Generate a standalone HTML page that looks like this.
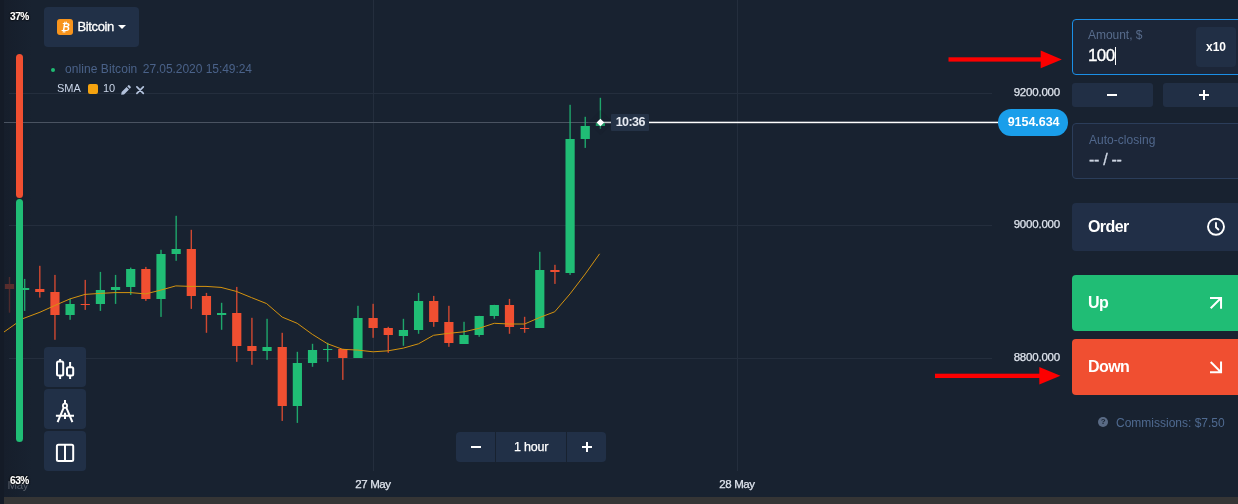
<!DOCTYPE html>
<html lang="en">
<head>
<meta charset="utf-8">
<title>Bitcoin chart</title>
<style>
*{box-sizing:border-box;margin:0;padding:0}
html,body{width:1238px;height:504px;overflow:hidden;background:#182230}
body{font-family:"Liberation Sans",sans-serif;color:#fff;position:relative}
#app{position:absolute;left:0;top:0;width:1238px;height:504px;overflow:hidden;background:#182230}
.abs{position:absolute}
#strip{left:0;top:0;width:4px;height:504px;background:#141b27}
#fade{left:4px;top:0;width:28px;height:497px;background:linear-gradient(90deg,#161e2b,#182230)}
#bottombar{left:4px;top:497px;width:1234px;height:7px;background:#353535}
#chart{left:0;top:0}
.pct{font-size:10.600px;font-weight:bold;color:#fff;left:9.800px;letter-spacing:-0.5px;-webkit-text-stroke:0.12px #fff;text-shadow:0 0 2px #000,0 0 2px #000,0 0 1px #000}
.asset{left:44px;top:7px;width:95px;height:40px;background:#213047;border-radius:4px}
.asset .ic{position:absolute;left:12.700px;top:11.700px;width:16.500px;height:16.500px;background:#f8941c;border-radius:3px}
.asset .nm{position:absolute;left:33.400px;top:12px;font-size:13px;line-height:16px;color:#fff;letter-spacing:-0.35px;-webkit-text-stroke:0.3px #fff}
.asset .car{position:absolute;left:74px;top:17.600px;width:0;height:0;border-left:4.100px solid transparent;border-right:4.100px solid transparent;border-top:4.600px solid #fff}
.vbar{left:15.900px;width:7.300px;border-radius:3.650px}
.info{left:65px;top:62px;font-size:12px;line-height:14px;color:#4a6289;white-space:nowrap;letter-spacing:-0.05px}
.dot{left:51px;top:68px;width:4px;height:4px;border-radius:2px;background:#1fbb73}
.sma{left:57px;top:81px;font-size:11px;line-height:14px;color:#c9d5e8;white-space:nowrap}
.sq{left:88px;top:84px;width:10px;height:10px;border-radius:2px;background:#f5a30f}
.tool{left:44px;width:42px;height:40px;background:#213047;border-radius:4px}
.ylab{font-size:11.500px;line-height:12px;color:#dfe5ee;white-space:nowrap;left:1012px;width:48px;text-align:right;letter-spacing:-0.2px;-webkit-text-stroke:0.25px #dfe5ee}
.xlab{font-size:11.500px;line-height:12px;color:#dfe5ee;white-space:nowrap;width:60px;text-align:center;top:478px;letter-spacing:-0.4px;-webkit-text-stroke:0.25px #dfe5ee}
.pill{left:998px;top:109.300px;width:69.700px;height:26.300px;border-radius:13.200px;background:#1a9eea;color:#fff;font-weight:bold;font-size:12.500px;line-height:27.600px;text-align:center;letter-spacing:-0.05px;padding-left:1.500px}
.tlab{left:611.300px;top:114px;width:38px;height:16.800px;background:#243246;border-radius:1px;color:#e6eaf1;font-weight:bold;font-size:12.500px;line-height:17.400px;text-align:center;letter-spacing:-0.55px}
.ts{left:456px;top:432px;width:150px;height:30px;background:#213047;border-radius:4px}
.ts .d{position:absolute;top:0;width:1px;height:30px;background:#182230}
.ts .t{position:absolute;left:40px;width:70px;top:0;line-height:30px;text-align:center;font-size:12.500px;color:#fff;letter-spacing:-0.2px;-webkit-text-stroke:0.25px #fff}
.bar{position:absolute;background:#fff}
.amount{left:1072px;top:18.800px;width:180px;height:56.400px;border:1.500px solid #1b8fe6;border-radius:4px;background:#1c2638}
.lbl{font-size:12px;line-height:14px;color:#586c8c;white-space:nowrap;letter-spacing:-0.03px}
.x10{left:1196px;top:27px;width:40px;height:40px;background:#212f45;border-radius:4px;font-weight:bold;font-size:12px;line-height:40px;text-align:center;color:#fff}
.pm{top:83px;width:81px;height:24px;background:#212f45;border-radius:3px}
.auto{left:1072px;top:123px;width:180px;height:56px;border:1px solid #2b3d5a;border-radius:4px;background:#1c2638}
.btn{left:1072px;width:180px;border-radius:4px;font-weight:bold;font-size:16px;color:#fff;padding-left:16px;letter-spacing:-0.6px}
.comm{left:1116px;top:416px;font-size:12px;line-height:14px;color:#4f6a90;white-space:nowrap}
.q{left:1098.200px;top:417.400px;width:10px;height:10px;border-radius:5px;background:#5a6b85;color:#182230;font-size:8px;font-weight:bold;line-height:10px;text-align:center}
</style>
</head>
<body>
<div id="app">
<div class="abs" id="strip"></div>
<div class="abs" id="fade"></div>
<div class="abs" id="bottombar"></div>

<svg id="chart" class="abs" width="1238" height="504" viewBox="0 0 1238 504">
  <!-- grid -->
  <g fill="#242e3d">
    <rect x="9" y="93" width="983" height="1"/>
    <rect x="9" y="225" width="983" height="1"/>
    <rect x="9" y="358" width="983" height="1"/>
    <rect x="373" y="0" width="1" height="471"/>
    <rect x="737" y="0" width="1" height="471"/>
  </g>
  <!-- current price guide -->
  <rect x="4" y="122" width="596" height="1" fill="#4a5361"/>
  <rect x="602" y="121.700" width="397" height="1.500" fill="#ffffff"/>
  <!-- candles -->
<g opacity="0.3"><rect x="8.80" y="277.0" width="1.4" height="35.7" fill="#f04f31" opacity="0.85"/><rect x="4.90" y="284" width="9.2" height="5" fill="#f04f31"/></g>
<g><rect x="23.95" y="278.9" width="1.4" height="32.0" fill="#20bd75" opacity="0.85"/><rect x="20.05" y="288" width="9.2" height="2" fill="#20bd75"/></g>
<g><rect x="39.10" y="265.8" width="1.4" height="31.8" fill="#f04f31" opacity="0.85"/><rect x="35.20" y="289" width="9.2" height="3" fill="#f04f31"/></g>
<g><rect x="54.25" y="274.9" width="1.4" height="64.9" fill="#f04f31" opacity="0.85"/><rect x="50.35" y="292" width="9.2" height="23" fill="#f04f31"/></g>
<g><rect x="69.40" y="298.9" width="1.4" height="20.9" fill="#20bd75" opacity="0.85"/><rect x="65.50" y="304" width="9.2" height="11" fill="#20bd75"/></g>
<g><rect x="84.55" y="279.9" width="1.4" height="30.0" fill="#f04f31" opacity="0.85"/><rect x="80.66" y="304" width="9.2" height="1" fill="#f04f31"/></g>
<g><rect x="99.71" y="271.9" width="1.4" height="39.0" fill="#20bd75" opacity="0.85"/><rect x="95.81" y="290" width="9.2" height="14" fill="#20bd75"/></g>
<g><rect x="114.86" y="274.9" width="1.4" height="29.0" fill="#20bd75" opacity="0.85"/><rect x="110.96" y="287" width="9.2" height="3" fill="#20bd75"/></g>
<g><rect x="130.01" y="267.6" width="1.4" height="27.3" fill="#20bd75" opacity="0.85"/><rect x="126.11" y="269" width="9.2" height="18" fill="#20bd75"/></g>
<g><rect x="145.16" y="266.9" width="1.4" height="34.0" fill="#f04f31" opacity="0.85"/><rect x="141.26" y="269" width="9.2" height="30" fill="#f04f31"/></g>
<g><rect x="160.31" y="249.8" width="1.4" height="67.1" fill="#20bd75" opacity="0.85"/><rect x="156.41" y="254" width="9.2" height="45" fill="#20bd75"/></g>
<g><rect x="175.46" y="215.8" width="1.4" height="45.0" fill="#20bd75" opacity="0.85"/><rect x="171.56" y="249" width="9.2" height="5" fill="#20bd75"/></g>
<g><rect x="190.61" y="229.8" width="1.4" height="79.1" fill="#f04f31" opacity="0.85"/><rect x="186.71" y="249" width="9.2" height="47" fill="#f04f31"/></g>
<g><rect x="205.76" y="292.9" width="1.4" height="39.9" fill="#f04f31" opacity="0.85"/><rect x="201.86" y="296" width="9.2" height="19" fill="#f04f31"/></g>
<g><rect x="220.91" y="302.8" width="1.4" height="27.0" fill="#20bd75" opacity="0.85"/><rect x="217.01" y="313" width="9.2" height="2" fill="#20bd75"/></g>
<g><rect x="236.06" y="286.9" width="1.4" height="74.9" fill="#f04f31" opacity="0.85"/><rect x="232.16" y="313" width="9.2" height="33" fill="#f04f31"/></g>
<g><rect x="251.22" y="317.8" width="1.4" height="47.0" fill="#f04f31" opacity="0.85"/><rect x="247.32" y="346" width="9.2" height="5" fill="#f04f31"/></g>
<g><rect x="266.37" y="318.8" width="1.4" height="41.0" fill="#20bd75" opacity="0.85"/><rect x="262.47" y="347" width="9.2" height="4" fill="#20bd75"/></g>
<g><rect x="281.52" y="332.8" width="1.4" height="88.1" fill="#f04f31" opacity="0.85"/><rect x="277.62" y="347" width="9.2" height="59" fill="#f04f31"/></g>
<g><rect x="296.67" y="351.8" width="1.4" height="71.1" fill="#20bd75" opacity="0.85"/><rect x="292.77" y="363" width="9.2" height="43" fill="#20bd75"/></g>
<g><rect x="311.82" y="343.8" width="1.4" height="23.0" fill="#20bd75" opacity="0.85"/><rect x="307.92" y="350" width="9.2" height="13" fill="#20bd75"/></g>
<g><rect x="326.97" y="342.8" width="1.4" height="19.0" fill="#20bd75" opacity="0.85"/><rect x="323.07" y="349" width="9.2" height="1" fill="#20bd75"/></g>
<g><rect x="342.12" y="348.8" width="1.4" height="31.1" fill="#f04f31" opacity="0.85"/><rect x="338.22" y="349" width="9.2" height="9" fill="#f04f31"/></g>
<g><rect x="357.27" y="305.8" width="1.4" height="52.0" fill="#20bd75" opacity="0.85"/><rect x="353.37" y="318" width="9.2" height="40" fill="#20bd75"/></g>
<g><rect x="372.42" y="303.8" width="1.4" height="34.0" fill="#f04f31" opacity="0.85"/><rect x="368.52" y="318" width="9.2" height="10" fill="#f04f31"/></g>
<g><rect x="387.57" y="326.8" width="1.4" height="26.0" fill="#f04f31" opacity="0.85"/><rect x="383.67" y="328" width="9.2" height="7" fill="#f04f31"/></g>
<g><rect x="402.73" y="318.8" width="1.4" height="27.0" fill="#20bd75" opacity="0.85"/><rect x="398.83" y="330" width="9.2" height="6" fill="#20bd75"/></g>
<g><rect x="417.88" y="292.9" width="1.4" height="40.9" fill="#20bd75" opacity="0.85"/><rect x="413.98" y="301" width="9.2" height="29" fill="#20bd75"/></g>
<g><rect x="433.03" y="295.9" width="1.4" height="30.9" fill="#f04f31" opacity="0.85"/><rect x="429.13" y="301" width="9.2" height="21" fill="#f04f31"/></g>
<g><rect x="448.18" y="305.8" width="1.4" height="41.0" fill="#f04f31" opacity="0.85"/><rect x="444.28" y="322" width="9.2" height="21" fill="#f04f31"/></g>
<g><rect x="463.33" y="321.8" width="1.4" height="22.0" fill="#20bd75" opacity="0.85"/><rect x="459.43" y="335" width="9.2" height="9" fill="#20bd75"/></g>
<g><rect x="478.48" y="315.8" width="1.4" height="21.0" fill="#20bd75" opacity="0.85"/><rect x="474.58" y="316" width="9.2" height="19" fill="#20bd75"/></g>
<g><rect x="493.63" y="304.8" width="1.4" height="14.0" fill="#20bd75" opacity="0.85"/><rect x="489.73" y="305" width="9.2" height="11" fill="#20bd75"/></g>
<g><rect x="508.78" y="298.9" width="1.4" height="34.9" fill="#f04f31" opacity="0.85"/><rect x="504.88" y="305" width="9.2" height="22" fill="#f04f31"/></g>
<g><rect x="523.93" y="316.8" width="1.4" height="16.0" fill="#f04f31" opacity="0.85"/><rect x="520.03" y="328" width="9.2" height="1" fill="#f04f31"/></g>
<g><rect x="539.08" y="251.8" width="1.4" height="76.0" fill="#20bd75" opacity="0.85"/><rect x="535.18" y="270" width="9.2" height="58" fill="#20bd75"/></g>
<g><rect x="554.24" y="264.8" width="1.4" height="19.1" fill="#f04f31" opacity="0.85"/><rect x="550.34" y="270" width="9.2" height="2" fill="#f04f31"/></g>
<g><rect x="569.39" y="104.8" width="1.4" height="170.1" fill="#20bd75" opacity="0.85"/><rect x="565.49" y="139" width="9.2" height="134" fill="#20bd75"/></g>
<g><rect x="584.54" y="116.8" width="1.4" height="31.1" fill="#20bd75" opacity="0.85"/><rect x="580.64" y="126" width="9.2" height="13" fill="#20bd75"/></g>
<g><rect x="599.69" y="97.8" width="1.4" height="31.0" fill="#20bd75" opacity="0.85"/><rect x="595.79" y="123" width="9.2" height="3" fill="#20bd75"/></g>
  <!-- SMA -->
  <polyline points="4,332 23,318.6 40,312.2 54.8,305.5 70,298.9 85,294.4 100.3,293.4 115,292.6 130.3,292.6 145.6,293.9 160.8,290.1 175.8,285.9 191,286.4 206,286.4 221,287.4 236.3,291.4 251.5,297.6 266.6,303.6 282.2,317.1 297.2,323.3 312.3,334.3 327.6,343.8 342.6,349.3 357.9,350.1 373.1,351.8 388.2,350.8 403.4,348.1 418.5,343.8 433.5,335.3 448.8,333.3 464,331.8 479,328.3 494.3,323.3 509.3,324 524.6,324 539.6,317.5 554.7,311.8 570,293.9 585.3,273.9 599.6,253.8" fill="none" stroke="#d4930f" stroke-width="1" stroke-linejoin="round"/>
  <!-- current point -->
  <path d="M600.400 110 L613 122.500 L600.400 135 L588 122.500 Z" fill="#151d29" opacity="0.25"/>
  <path d="M600.400 118.700 L604.200 122.500 L600.400 126.300 L596.600 122.500 Z" fill="#ffffff"/>
  <!-- red arrows -->
  <g fill="#fc0000">
    <rect x="948.500" y="57.300" width="94" height="4.300"/>
    <path d="M1040.700 50.600 L1061.800 59.450 L1040.700 68.300 Z"/>
    <rect x="935" y="373.700" width="106" height="4.300"/>
    <path d="M1039.300 367 L1060.400 375.750 L1039.300 384.500 Z"/>
  </g>
</svg>

<!-- left sentiment bars -->
<div class="abs vbar" style="top:53.800px;height:144.300px;background:#f04f31"></div>
<div class="abs vbar" style="top:198.900px;height:243px;background:#20bd75"></div>
<div class="abs pct" style="top:9.500px;;line-height:12px;transform:scale(0.96,1.0);transform-origin:0 85%">37%</div>
<div class="abs" style="left:7.500px;top:477.800px;font-size:11.500px;line-height:14px;color:#565d69;letter-spacing:-0.35px">May</div>
<div class="abs pct" style="top:473.500px;;line-height:12px;transform:scale(0.96,1.0);transform-origin:0 85%">63%</div>

<!-- asset selector -->
<div class="abs asset">
  <div class="ic">
    <svg width="16" height="16" viewBox="0 0 16 16"><text x="8.400" y="11.800" font-family="Liberation Sans, sans-serif" font-size="10" font-weight="bold" font-style="italic" fill="#fff" text-anchor="middle">₿</text></svg>
  </div>
  <div class="nm">Bitcoin</div>
  <div class="car"></div>
</div>
<div class="abs dot"></div>
<div class="abs info"><span style="letter-spacing:0.07px">online Bitcoin</span></div><div class="abs info" style="left:142.800px">27.05.2020 15:49:24</div>
<div class="abs sma">SMA</div>
<div class="abs sq"></div>
<div class="abs sma" style="left:103px">10</div>
<svg class="abs" style="left:120px;top:84px" width="26" height="12" viewBox="0 0 26 12">
  <path d="M1.2 10.8 L1.6 8 L6.6 3 L9 5.4 L4 10.4 Z M7.3 2.3 L8.3 1.3 Q8.8 0.9 9.3 1.3 L10.7 2.7 Q11.1 3.2 10.7 3.7 L9.7 4.7 Z" fill="#b2c1db"/>
  <path d="M16.900 2.900 L23.300 9.300 M23.300 2.900 L16.900 9.300" stroke="#b5c4de" stroke-width="1.700" stroke-linecap="round" fill="none"/>
</svg>

<!-- chart tools -->
<div class="abs tool" style="top:347px">
  <svg width="42" height="40" viewBox="0 0 42 40"><g fill="none" stroke="#fff" stroke-width="2">
    <rect x="13" y="14.5" width="6.2" height="13.9" rx="1.5"/><path d="M16.100 12v2.500M16.100 28.400v3.600"/>
    <rect x="23" y="20.200" width="6.200" height="8.200" rx="1.500"/><path d="M26.100 15v5.200M26.100 28.400v3.600"/></g></svg>
</div>
<div class="abs tool" style="top:389px">
  <svg width="42" height="40" viewBox="0 0 42 40"><g fill="none" stroke="#fff" stroke-width="2">
    <circle cx="21" cy="16.700" r="2.100" stroke-width="1.800"/><path d="M21 11v3.500M19.700 18.700L13.600 33.200M22.300 18.700L28.400 33.200M11.900 26.700H30M21 23.800v6.100"/></g></svg>
</div>
<div class="abs tool" style="top:431px">
  <svg width="42" height="40" viewBox="0 0 42 40"><g fill="none" stroke="#fff" stroke-width="2">
    <rect x="12.900" y="13.800" width="16.300" height="16.300" rx="1.500"/><path d="M21 13.800v16.300"/></g></svg>
</div>

<!-- axis labels -->
<div class="abs ylab" style="top:85.500px">9200.000</div>
<div class="abs ylab" style="top:217.700px">9000.000</div>
<div class="abs ylab" style="top:350.600px">8800.000</div>
<div class="abs xlab" style="left:343px">27 May</div>
<div class="abs xlab" style="left:707px">28 May</div>
<div class="abs pill">9154.634</div>
<div class="abs tlab">10:36</div>

<!-- timescale -->
<div class="abs ts">
  <div class="d" style="left:39px"></div><div class="d" style="left:110px"></div>
  <div class="bar" style="left:15.200px;top:14px;width:9.600px;height:2px"></div>
  <div class="t">1 hour</div>
  <div class="bar" style="left:126px;top:14px;width:10px;height:2px"></div>
  <div class="bar" style="left:130px;top:10px;width:2px;height:10px"></div>
</div>

<!-- right panel -->
<div class="abs amount"></div>
<div class="abs lbl" style="left:1088px;top:28px">Amount, $</div>
<div class="abs" style="left:1088px;top:45.500px;font-size:17px;line-height:20px;color:#fff;letter-spacing:-0.6px;-webkit-text-stroke:0.35px #fff">100</div>
<div class="abs" style="left:1115px;top:47px;width:1px;height:18px;background:#fff"></div>
<div class="abs x10">x10</div>
<div class="abs pm" style="left:1072px"><div class="bar" style="left:34.600px;top:11px;width:10px;height:2px"></div></div>
<div class="abs pm" style="left:1163px"><div class="bar" style="left:36px;top:11px;width:10px;height:2px"></div><div class="bar" style="left:40px;top:7px;width:2px;height:10px"></div></div>
<div class="abs auto"></div>
<div class="abs lbl" style="left:1089px;top:132.700px;color:#50678c;letter-spacing:0.03px">Auto-closing</div>
<div class="abs" style="left:1089px;top:150px;font-size:16px;line-height:20px;color:#cdd5e2;white-space:nowrap;letter-spacing:-0.3px;-webkit-text-stroke:0.3px #cdd5e2">-- / --</div>

<div class="abs btn" style="top:203px;height:48px;line-height:47px;background:#212f47">Order</div>
<svg class="abs" style="left:1205px;top:216px" width="22" height="22" viewBox="0 0 22 22"><circle cx="11" cy="10.800" r="8" fill="none" stroke="#fff" stroke-width="1.900"/><path d="M11 6.900v4.400l2.400 2.200" fill="none" stroke="#fff" stroke-width="1.900" stroke-linecap="round" stroke-linejoin="round"/></svg>
<div class="abs btn" style="top:275px;height:56px;line-height:55px;background:#20bd75">Up</div>
<svg class="abs" style="left:1208px;top:296px" width="16" height="16" viewBox="0 0 16 16"><path d="M2 1.950H13.050V12.800M2.700 12.200L13 2" fill="none" stroke="#fff" stroke-width="2"/></svg>
<div class="abs btn" style="top:339px;height:56px;line-height:55px;background:#f04f31">Down</div>
<svg class="abs" style="left:1208px;top:359px" width="16" height="16" viewBox="0 0 16 16"><path d="M2 13.250H13.050V2.400M2.700 3L13 13.200" fill="none" stroke="#fff" stroke-width="2"/></svg>

<div class="abs q">?</div>
<div class="abs comm">Commissions: $7.50</div>
</div>
</body>
</html>
